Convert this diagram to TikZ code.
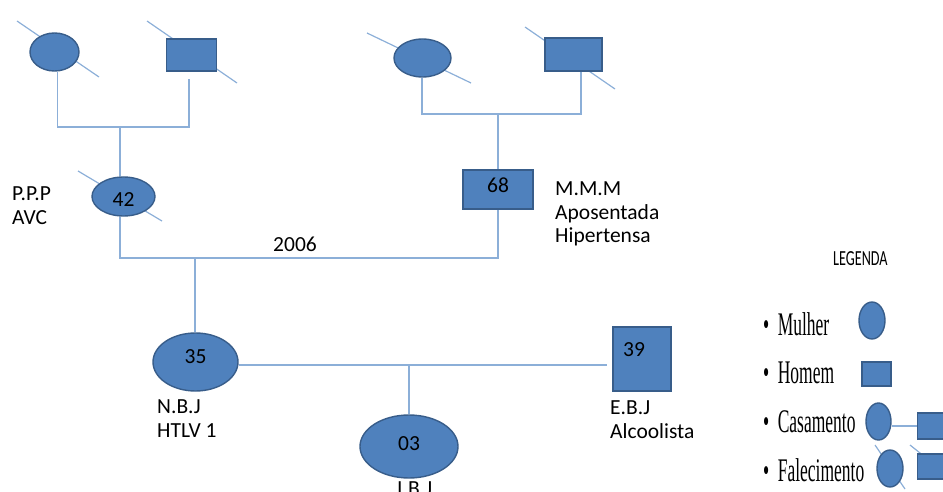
\documentclass[tikz,border=0pt]{standalone}
\usepackage{fontspec}
\setmainfont{Carlito}
\newfontfamily\legfont{Liberation Serif}
\usepackage{graphicx}
\usetikzlibrary{positioning, calc, shapes.geometric, backgrounds}

\definecolor{shapefill}{RGB}{79,129,189}
\definecolor{shapeline}{RGB}{56,93,138}
\definecolor{linkblue}{RGB}{140,175,216}

\newcommand{\nudge}[2]{\raisebox{#1}[\height][\depth]{#2}}
\newcommand{\legitem}[1]{\scalebox{0.53}[1]{\legfont\fontsize{33}{36}\selectfont\textbullet\hspace{16pt}#1}}

\begin{document}
\begin{tikzpicture}[x=1pt, y=-1pt,
    font=\fontsize{21.5}{23.5}\selectfont,
    female/.style={ellipse, draw=shapeline, fill=shapefill, line width=1.4pt, inner sep=0pt},
    male/.style={rectangle, draw=shapeline, fill=shapefill, line width=1.4pt, inner sep=0pt},
    link/.style={draw=linkblue, line width=1.2pt},
    dead/.style={draw=linkblue, line width=1.2pt},
    info/.style={anchor=north west, align=left, inner sep=0pt}]
    \useasboundingbox (0,0) rectangle (943,492);

    % Grandparents (father's side)
    \node[female, minimum width=49pt, minimum height=38pt] (gm1) at (54.5,52) {};
    \node[male, minimum width=50pt, minimum height=32pt] (gf1) at (191.5,55) {};

    % Grandparents (mother's side)
    \node[female, minimum width=57pt, minimum height=38pt] (gm2) at (422.5,58) {};
    \node[male, minimum width=57pt, minimum height=33pt] (gf2) at (573.5,54.5) {};

    % Parents
    \node[female, minimum width=63pt, minimum height=39pt] (pp) at (123.5,196.5) {\nudge{-3pt}{42}};
    \node[male, minimum width=70pt, minimum height=39pt] (mm) at (498,189.5) {\nudge{4pt}{68}};

    \node[info] (ppl) at (12,187) {P.P.P\\AVC};
    \node[info] (mml) at (555,182) {M.M.M\\Aposentada\\Hipertensa};
    \node[info] (year) at (273,237) {2006};

    % Couple and child
    \node[female, minimum width=85pt, minimum height=58pt] (nb) at (195.5,362) {\nudge{5.5pt}{35}};
    \node[male, minimum width=58pt, minimum height=64pt] (eb) at (642,359) {\nudge{9pt}{39\hspace{16pt}}};
    \node[female, minimum width=98pt, minimum height=63pt] (ib) at (409,446.5) {\nudge{2.5pt}{03}};

    \node[info] (nbl) at (157,400) {N.B.J\\HTLV 1};
    \node[info] (ebl) at (610,401) {E.B.J\\Alcoolista};
    \node[info] (ibl) at (397,482) {I.B.J};

    % Connections
    \coordinate (u1) at (120,127);
    \coordinate (u2) at (498,114);
    \coordinate (u3) at (195,258);
    \coordinate (u4) at (409,365);
    \draw[link] ([xshift=3pt]gm1.south) |- (u1) -| ([xshift=-2.5pt,yshift=-7pt]gf1.south);
    \draw[link] (u1) -- (u1 |- pp.north);
    \draw[link] ([xshift=-0.5pt]gm2.south) |- (u2) -| ([xshift=7.5pt]gf2.south);
    \draw[link] (u2) -- (mm.north);
    \draw[link] (u1 |- pp.south) |- (u3) -| (mm.south);
    \draw[link] (u3) -- (u3 |- nb.north);
    \draw[link, shorten >=5pt] (nb.east |- u4) -- (u4 -| eb.west);
    \draw[link] (u4) -- (ib.north);

    % Legend
    \node[anchor=base west, inner sep=0pt] (leg) at (833,265) {\scalebox{0.66}[1]{LEGENDA}};
    \node[anchor=base west, inner sep=0pt] (lw) at (763,335) {\legitem{Mulher}};
    \node[anchor=base west, inner sep=0pt] (lm) at (763,383) {\legitem{Homem}};
    \node[anchor=base west, inner sep=0pt] (lc) at (763,432) {\legitem{Casamento}};
    \node[anchor=base west, inner sep=0pt] (ld) at (763,481) {\legitem{Falecimento}};

    \node[female, minimum width=26pt, minimum height=37pt] (lwf) at (872,320.5) {};
    \node[male, minimum width=29pt, minimum height=24pt] (lmm) at (876.5,374) {};
    \node[female, minimum width=25pt, minimum height=37pt] (lcf) at (878.5,421.5) {};
    \node[male, minimum width=29pt, minimum height=26pt, anchor=west] (lcm) at (917,426) {};
    \draw[link] (lcf.east |- lcm.west) -- (lcm.west);
    \node[female, minimum width=26pt, minimum height=37pt] (ldf) at (890,468.5) {};
    \node[male, minimum width=29pt, minimum height=25pt, anchor=west] (ldm) at (917,466.5) {};

    % Deceased marks, behind the shapes
    \begin{pgfonlayer}{background}
    \draw[dead] ($(gm1)+(-37.5,-31)$) -- ($(gm1)+(44.5,25)$);
    \draw[dead] ($(gf1)+(-44.5,-34)$) -- ($(gf1)+(45.5,28)$);
    \draw[dead] ($(gm2)+(-55.5,-25)$) -- ($(gm2)+(48.5,25)$);
    \draw[dead] ($(gf2)+(-48.5,-27.5)$) -- ($(gf2)+(41.5,34.5)$);
    \draw[dead] ($(pp)+(-45.5,-25.5)$) -- ($(pp)+(38.5,24.5)$);
    \draw[dead] ($(ldf)+(-15,-23.5)$) -- ($(ldf)+(15,20.5)$);
    \draw[dead] ($(ldm.west)+(-7,-21.5)$) -- ($(ldm.west)+(40,16)$);
    \end{pgfonlayer}
\end{tikzpicture}
\end{document}
